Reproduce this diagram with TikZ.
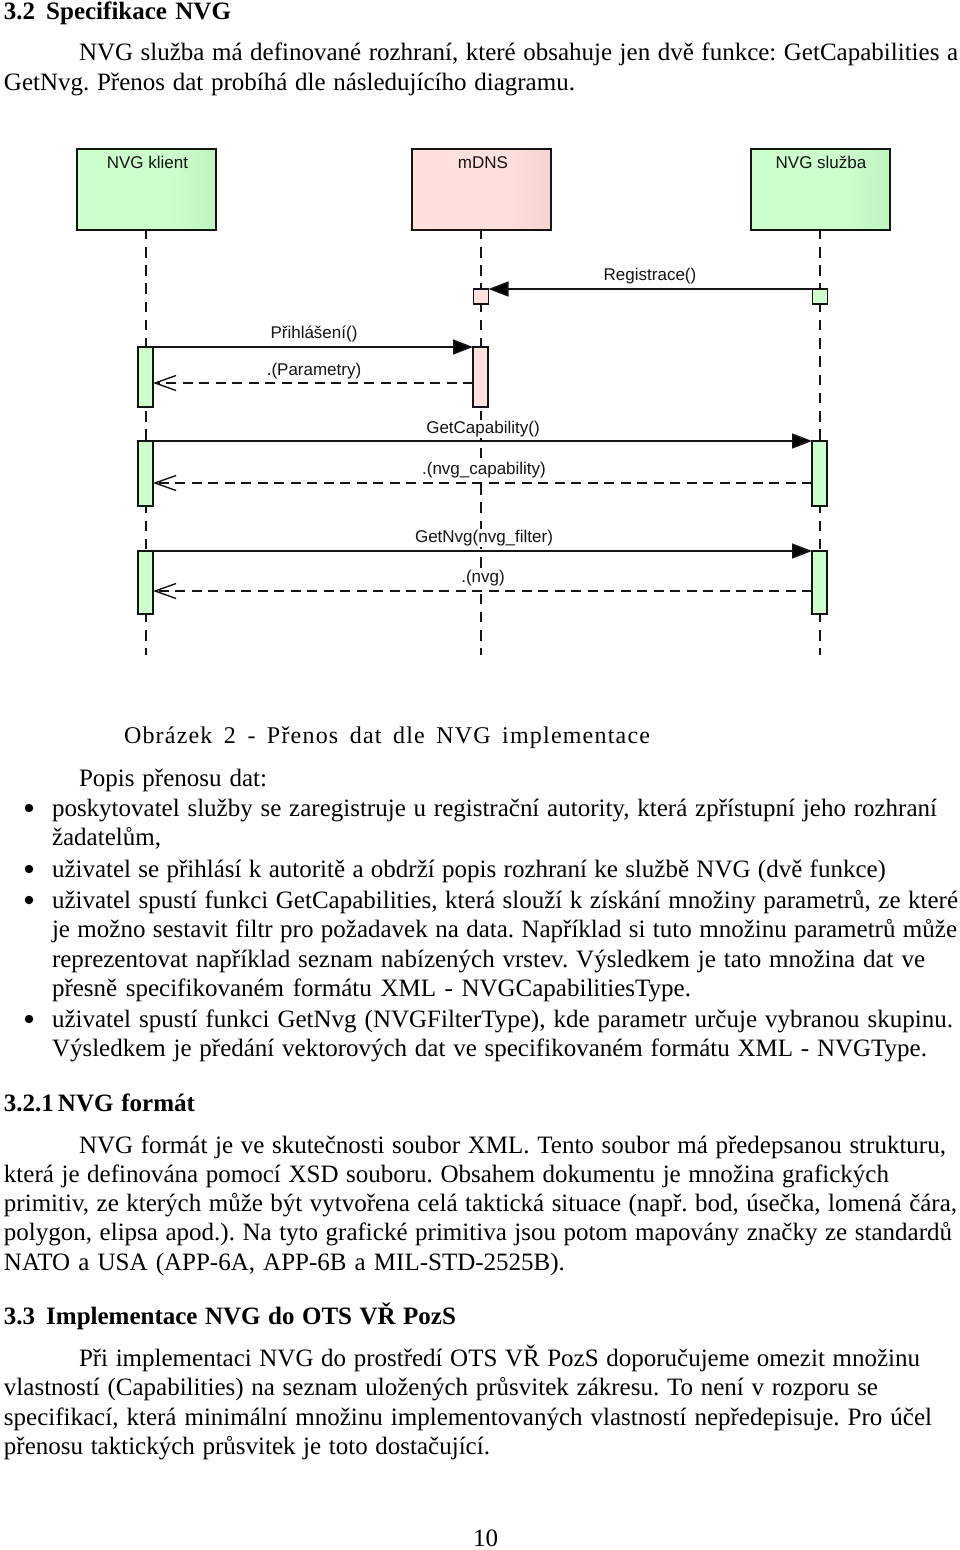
\documentclass[tikz,border=0pt]{standalone}
\usepackage{fontspec}
\usetikzlibrary{arrows.meta}
\setmainfont{Liberation Serif}
\newfontfamily\diagfont{Liberation Sans}
\definecolor{gbase}{RGB}{204,255,204}
\definecolor{gdark}{RGB}{172,226,172}
\definecolor{pbase}{RGB}{255,224,220}
\definecolor{pdark}{RGB}{226,194,190}
\definecolor{ink}{RGB}{20,20,20}
\pgfdeclarehorizontalshading{greenshade}{100bp}{color(0bp)=(gbase);color(50bp)=(gbase);color(58bp)=(gbase);color(100bp)=(gdark)}
\pgfdeclarehorizontalshading{pinkshade}{100bp}{color(0bp)=(pbase);color(50bp)=(pbase);color(58bp)=(pbase);color(100bp)=(pdark)}
\newcounter{tc}
\newcommand{\tl}[5][]{\stepcounter{tc}\node[bodytext,#1] (t\arabic{tc}) at (#2,#3+8) {\makebox[#4pt][s]{\frenchspacing #5}};}
\tikzset{
  x=1pt,y=-1pt,outer sep=0pt,
  bodytext/.style={anchor=base west,inner sep=0pt,font=\fontsize{25}{29}\selectfont,text=black},
  boldtext/.style={font=\fontsize{25}{29}\bfseries\selectfont},
  headbox/.style={draw=ink,line width=1.8pt,minimum width=139pt,minimum height=81pt,inner sep=0pt},
  headlabel/.style={font=\diagfont\fontsize{17}{20}\selectfont,text=ink,inner sep=0pt},
  greenf/.style={shade,shading=greenshade},
  pinkf/.style={shade,shading=pinkshade},
  actbox/.style={draw=ink,line width=1.6pt,minimum width=15pt,inner sep=0pt,anchor=north},
  lifeline/.style={draw=ink,line width=1.6pt,dash pattern=on 10.5pt off 7.74pt,dash phase=1.24pt},
  msglabel/.style={font=\diagfont\fontsize{17}{20}\selectfont,text=ink,inner sep=1.5pt,fill=white},
  callarrow/.style={draw=ink,line width=1.6pt,-{Triangle[length=20pt,width=15pt,fill=black]}},
  retarrow/.style={draw=ink,line width=1.6pt,dash pattern=on 10pt off 6.5pt,-{Straight Barb[length=21pt,width=15pt,line width=1.4pt]}},
  bulletdot/.style={circle,fill=black,minimum size=8.5pt,inner sep=0pt},
}
\begin{document}
\begin{tikzpicture}
\useasboundingbox (0,0) rectangle (960,1550);
% heads
\node[headbox,greenf,anchor=north west] (hA) at (77,149) {};
\node[headbox,pinkf,anchor=north west] (hB) at (412,149) {};
\node[headbox,greenf,anchor=north west] (hC) at (751,149) {};
\node[headlabel] (lA) at (147.5,162.5) {NVG klient};
\node[headlabel] (lB) at (483,162.5) {mDNS};
\node[headlabel] (lC) at (821,162.5) {NVG služba};
% lifeline ends
\coordinate (eA) at (146,655);
\coordinate (eB) at (481,655);
\coordinate (eC) at (820,655);
\path[lifeline] (146,230) -- (eA);
\path[lifeline] (481,230) -- (eB);
\path[lifeline] (820,230) -- (eC);
% message labels
\node[msglabel] (m1) at (650,276) {Registrace()};
\node[msglabel] (m2) at (314,334) {Přihlášení()};
\node[msglabel] (m3) at (314,371) {.(Parametry)};
\node[msglabel] (m4) at (483,429) {GetCapability()};
\node[msglabel] (m5) at (484,470) {.(nvg\_capability)};
\node[msglabel] (m6) at (484,538) {GetNvg(nvg\_filter)};
\node[msglabel] (m7) at (483,578) {.(nvg)};
% activations
\node[actbox,fill=pbase,minimum height=15pt] (b0) at (481,289) {};
\node[actbox,fill=gbase,minimum height=15pt] (c0) at (820,289) {};
\node[actbox,fill=gbase,minimum height=60pt] (a1) at (145.5,347) {};
\node[actbox,fill=pbase,minimum height=60pt] (b1) at (480.5,347) {};
\node[actbox,fill=gbase,minimum height=65pt] (a2) at (145.5,441) {};
\node[actbox,fill=gbase,minimum height=65pt] (c2) at (819.5,441) {};
\node[actbox,fill=gbase,minimum height=63pt] (a3) at (145.5,551) {};
\node[actbox,fill=gbase,minimum height=63pt] (c3) at (819.5,551) {};
% messages
\draw[callarrow] (c0.north west) -- (b0.north east);
\draw[callarrow] (a1.north east) -- (b1.north west);
\draw[callarrow] (a2.north east) -- (c2.north west);
\draw[callarrow] (a3.north east) -- (c3.north west);
\draw[retarrow] ([yshift=-36pt]b1.north west) -- ([yshift=-36pt]a1.north east);
\draw[retarrow] ([yshift=-42pt]c2.north west) -- ([yshift=-42pt]a2.north east);
\draw[retarrow] ([yshift=-40pt]c3.north west) -- ([yshift=-40pt]a3.north east);
% text
\tl[boldtext]{4}{11}{227}{3.2\hspace*{11pt}Specifikace NVG}
\tl{79}{52}{879}{NVG služba má definované rozhraní, které obsahuje jen dvě funkce: GetCapabilities a}
\tl{4}{82}{571}{GetNvg. Přenos dat probíhá dle následujícího diagramu.}
\stepcounter{tc}\node[bodytext,font=\addfontfeature{LetterSpace=5}\fontsize{24}{28}\selectfont] (cap) at (124,743) {\makebox[526pt][s]{\frenchspacing Obrázek 2 - Přenos dat dle NVG implementace}};
\tl{79}{778}{188}{Popis přenosu dat:}
\tl{52}{808}{885}{poskytovatel služby se zaregistruje u registrační autority, která zpřístupní jeho rozhraní}
\tl{52}{837}{110}{žadatelům,}
\tl{52}{869}{834}{uživatel se přihlásí k autoritě a obdrží popis rozhraní ke službě NVG (dvě funkce)}
\tl{52}{900}{906}{uživatel spustí funkci GetCapabilities, která slouží k získání množiny parametrů, ze které}
\tl{52}{929}{905}{je možno sestavit filtr pro požadavek na data. Například si tuto množinu parametrů může}
\tl{52}{959}{873}{reprezentovat například seznam nabízených vrstev. Výsledkem je tato množina dat ve}
\tl{52}{988}{639}{přesně specifikovaném formátu XML - NVGCapabilitiesType.}
\tl{52}{1019}{901}{uživatel spustí funkci GetNvg (NVGFilterType), kde parametr určuje vybranou skupinu.}
\tl{52}{1048}{875}{Výsledkem je předání vektorových dat ve specifikovaném formátu XML - NVGType.}
\node[bulletdot] (d1) at (29,808) {};
\node[bulletdot] (d2) at (29,869) {};
\node[bulletdot] (d3) at (29,900) {};
\node[bulletdot] (d4) at (29,1019) {};
\tl[boldtext]{4}{1103}{191}{3.2.1\hspace*{4pt}NVG formát}
\tl{79}{1145}{867}{NVG formát je ve skutečnosti soubor XML. Tento soubor má předepsanou strukturu,}
\tl{4}{1174}{885}{která je definována pomocí XSD souboru. Obsahem dokumentu je množina grafických}
\tl{4}{1203}{953}{primitiv, ze kterých může být vytvořena celá taktická situace (např. bod, úsečka, lomená čára,}
\tl{4}{1232}{948}{polygon, elipsa apod.). Na tyto grafické primitiva jsou potom mapovány značky ze standardů}
\tl{4}{1262}{561}{NATO a USA (APP-6A, APP-6B a MIL-STD-2525B).}
\tl[boldtext]{4}{1316}{452}{3.3\hspace*{11pt}Implementace NVG do OTS VŘ PozS}
\tl{79}{1358}{841}{Při implementaci NVG do prostředí OTS VŘ PozS doporučujeme omezit množinu}
\tl{4}{1387}{874}{vlastností (Capabilities) na seznam uložených průsvitek zákresu. To není v rozporu se}
\tl{4}{1417}{928}{specifikací, která minimální množinu implementovaných vlastností nepředepisuje. Pro účel}
\tl{4}{1446}{486}{přenosu taktických průsvitek je toto dostačující.}
\tl{473}{1538.5}{23}{10}
\end{tikzpicture}
\end{document}
